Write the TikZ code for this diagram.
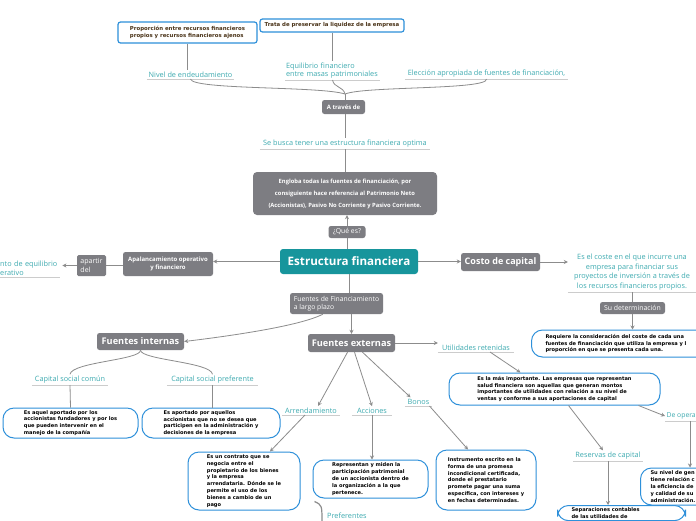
\documentclass[tikz,border=0pt]{standalone}
\usepackage{fontspec}
\setmainfont{Open Sans}
\newfontfamily\bxf{DejaVu Sans}
\usetikzlibrary{arrows.meta}
\definecolor{gbox}{HTML}{7D7D82}
\definecolor{tealbox}{HTML}{17959C}
\definecolor{tealt}{HTML}{3DAAB0}
\definecolor{bblue}{HTML}{2E90DA}
\definecolor{conn}{HTML}{8C8C8C}
\definecolor{ulc}{HTML}{CCCCCC}
\definecolor{brownt}{HTML}{4A3318}
\begin{document}
\begin{tikzpicture}[x=1pt,y=-1pt,
 gb/.style={fill=gbox,text=white,rounded corners=2.5pt,inner sep=1pt,align=center},
 lbl/.style={text=tealt,font=\fontsize{7.3}{8.5}\selectfont,inner xsep=0pt,inner ysep=1.5pt,anchor=south,align=center},
 ul/.style={draw=ulc,line width=0.8pt},
 cn/.style={draw=conn,line width=0.8pt},
 ar/.style={cn,-{Stealth[length=4pt,width=4pt]}},
 bb/.style={draw=bblue,line width=1pt,fill=white,rounded corners=11pt,align=left,font=\bxf\bfseries\fontsize{5.1}{6.8}\selectfont,inner sep=0pt},
 hb/.style={draw=bblue,line width=1.2pt,fill=white,rounded corners=2.5pt,align=left,text=brownt,font=\bxf\bfseries\fontsize{5.4}{6.5}\selectfont,inner sep=0pt},
]
\useasboundingbox (0,0) rectangle (696,520);
\clip (0,0) rectangle (696,520);
\fill[white] (0,0) rectangle (696,520);

% top
\node[hb,minimum width=139pt,minimum height=21pt] (prop) at (187.5,32.5) {Proporción entre recursos financieros\\propios y recursos financieros ajenos};
\node[hb,minimum width=144pt,minimum height=13pt] (trata) at (332,25.5) {Trata de preservar la liquidez de la empresa};
\node[lbl,minimum width=87pt] (nivel) at (190.5,79) {Nivel de endeudamiento};
\node[lbl,text width=93pt,inner xsep=1pt,align=left] (equil) at (332.5,80) {Equilibrio financiero\\entre masas patrimoniales};
\node[lbl,minimum width=163pt] (elec) at (486.5,79) {Elección apropiada de fuentes de financiación,};
\coordinate (conv) at (345,94);
\node[gb,minimum width=43pt,minimum height=14pt,font=\bfseries\fontsize{6}{7}\selectfont] (atraves) at (343.5,107) {A través de};
\node[lbl,minimum width=170pt] (sebusca) at (345,149) {Se busca tener una estructura financiera optima};
\node[gb,minimum width=184pt,minimum height=43pt,font=\bfseries\fontsize{5.8}{12}\selectfont,rounded corners=4pt] (engloba) at (345,193.5) {Engloba todas las fuentes de financiación, por\\consiguiente hace referencia al Patrimonio Neto\\(Accionistas), Pasivo No Corriente y Pasivo Corriente.};
\node[gb,minimum width=37pt,minimum height=12pt,font=\fontsize{6.8}{7.5}\selectfont] (quees) at (347,232) {¿Qué es?};
\node[fill=tealbox,text=white,rounded corners=3pt,minimum width=138pt,minimum height=25pt,font=\bfseries\fontsize{11.6}{13}\selectfont,inner sep=0pt] (estr) at (349,261.5) {Estructura financiera};

% left
\node[gb,minimum width=90pt,minimum height=24pt,font=\bfseries\fontsize{6}{8}\selectfont] (apal) at (168,264) {Apalancamiento operativo\\y financiero};
\node[gb,minimum width=29pt,minimum height=21pt,font=\fontsize{7}{8.5}\selectfont,align=left,rounded corners=1.5pt] (apartir) at (91.5,265.5) {apartir\\del};
\node[lbl,anchor=south west,align=left,text width=60pt] (punto) at (0,277) {nto de equilibrio\\erativo};

% right
\node[gb,minimum width=79pt,minimum height=18pt,font=\bfseries\fontsize{9}{10}\selectfont] (costo) at (500.5,262) {Costo de capital};
\node[lbl,minimum width=128pt,font=\fontsize{7.3}{9.6}\selectfont] (esel) at (632,292) {Es el coste en el que incurre una\\empresa para financiar sus\\proyectos de inversión a través de\\los recursos financieros propios.};
\node[gb,minimum width=65pt,minimum height=12pt,font=\fontsize{6.9}{7.5}\selectfont] (sudet) at (632.5,308) {Su determinación};
\node[bb,anchor=west,minimum height=27pt,text width=175pt,inner xsep=14pt] (requiere) at (531,343.5) {Requiere la consideración del coste de cada una\\fuentes de financiación que utiliza la empresa y l\\proporción en que se presenta cada una.};

% lower middle
\node[gb,minimum width=93pt,minimum height=21pt,font=\fontsize{6.8}{8.5}\selectfont,align=left] (fflp) at (336.5,303.5) {Fuentes de Financiamiento\\a largo plazo};
\node[gb,minimum width=87pt,minimum height=17pt,font=\bfseries\fontsize{9.2}{10}\selectfont] (fint) at (140.5,341.5) {Fuentes internas};
\node[gb,minimum width=87pt,minimum height=18pt,font=\bfseries\fontsize{9.2}{10}\selectfont] (fext) at (351.5,343) {Fuentes externas};

\node[lbl,minimum width=76pt] (capcomun) at (70,385) {Capital social común};
\node[lbl,minimum width=91pt] (cappref) at (212.5,385) {Capital social preferente};
\node[bb,minimum width=135pt,minimum height=30pt] (esaquel) at (70.5,423) {Es aquel aportado por los\\accionistas fundadores y por los\\que pueden intervenir en el\\manejo de la compañía};
\node[bb,minimum width=138pt,minimum height=30pt] (esaport) at (211,423) {Es aportado por aquellos\\accionistas que no se desea que\\participen en la administración y\\decisiones de la empresa};

\node[lbl,minimum width=76pt] (utilret) at (476,352) {Utilidades retenidas};
\node[bb,minimum width=211pt,minimum height=32pt] (eslamas) at (554.5,389) {Es la más importante. Las empresas que representan\\salud financiera son aquellas que generan montos\\importantes de utilidades con relación a su nivel de\\ventas y conforme a sus aportaciones de capital};
\node[lbl,anchor=south west,inner xsep=1.5pt,align=left,font=\fontsize{6.8}{8}\selectfont] (deopera) at (665,421) {De opera};
\node[lbl,minimum width=70pt] (reservas) at (608,461) {Reservas de capital};
\node[bb,anchor=north west,text width=100pt,inner xsep=14pt,inner ysep=2.5pt,font=\bxf\bfseries\fontsize{5.1}{6.2}\selectfont] (separ) at (557,505) {Separaciones contables\\de las utilidades de};
\node[bb,anchor=west,text width=60pt,inner xsep=10pt,minimum height=37pt] (sunivel) at (640,486.5) {Su nivel de gen\\tiene relación c\\la eficiencia de\\y calidad de su\\administración.};

\node[lbl,minimum width=58pt] (arrend) at (311,415) {Arrendamiento};
\node[lbl,minimum width=40pt] (acciones) at (372,415) {Acciones};
\node[lbl,minimum width=27pt] (bonos) at (418.5,406) {Bonos};
\node[bb,minimum width=112pt,minimum height=58pt] (contrato) at (244,481) {Es un contrato que se\\negocia entre el\\propietario de los bienes\\y la empresa\\arrendataria. Dónde se le\\permite el uso de los\\bienes a cambio de un\\pago};
\node[bb,minimum width=115pt,minimum height=38pt] (repres) at (370.5,479) {Representan y miden la\\participación patrimonial\\de un accionista dentro de\\la organización a la que\\pertenece.};
\node[bb,minimum width=100pt,minimum height=60pt] (instr) at (486,480) {Instrumento escrito en la\\forma de una promesa\\incondicional certificada,\\donde el prestatario\\promete pagar una suma\\específica, con intereses y\\en fechas determinadas.};
\node[text=tealt,font=\fontsize{7.3}{8}\selectfont,anchor=west,inner sep=0pt] (prefer) at (327,516) {Preferentes};
\coordinate (prefend) at (322,523);

% underlines
\foreach \n in {nivel,equil,elec,sebusca,punto,esel,capcomun,cappref,utilret,reservas,arrend,acciones,bonos}
  \draw[ul] (\n.south west) -- (\n.south east);
\draw[ul] (deopera.south west) -- ++(40,0);

% connectors
\draw[cn] (prop.south) -- (prop.south |- nivel.north);
\draw[cn] (equil.north |- trata.south) -- (equil.north);
\draw[cn] (nivel.south) .. controls (192,90) and (320,86) .. (conv);
\draw[cn] (equil.south) .. controls (334,88) and (343,86) .. (conv);
\draw[cn] (elec.south) .. controls (488,90) and (365,86) .. (conv);
\draw[cn] (conv) -- (conv |- atraves.north);
\draw[cn] (conv |- atraves.south) -- (conv |- sebusca.north);
\draw[cn] (sebusca.south) -- (engloba.north);
\draw[cn] (estr.north -| quees.south) -- (quees.south);
\draw[ar] (quees.north) -- (quees.north |- engloba.south);
\draw[ar] (estr.west) -- (apal.east |- estr.west);
\draw[cn] (apal.west |- apartir.east) -- (apartir.east);
\draw[ar] (apartir.west) -- ([xshift=2pt]punto.east |- apartir.west);
\draw[ar] (estr.east) -- (costo.west |- estr.east);
\draw[ar] (costo.east) -- (esel.west |- costo.east);
\draw[cn] (esel.south) -- (esel.south |- sudet.north);
\draw[ar] (sudet.south) -- (sudet.south |- requiere.north);
\draw[cn] (estr.south) -- (estr.south |- fflp.north);
\draw[ar] (fext.north |- fflp.south) -- (fext.north);
\draw[ar] ([xshift=33pt]fflp.south west) .. controls (300,326) and (230,336) .. (fint.east);
\draw[cn] (fint.south) .. controls (141,360) and (72,362) .. (capcomun.north);
\draw[cn] (fint.south) .. controls (141,360) and (211,362) .. (cappref.north);
\draw[cn] (capcomun.south) -- (esaquel.north);
\draw[cn] (cappref.south) -- (cappref.south |- esaport.north);
\draw[ar] (fext.east) -- (utilret.west |- fext.east);
\draw[ar] ([xshift=14pt]utilret.south) -- ([xshift=-34pt]eslamas.north);
\draw[ar] ([xshift=-22pt]eslamas.south east) -- (deopera.west);
\draw[ar] ([xshift=14pt]eslamas.south) -- ([xshift=-5pt]reservas.north);
\draw[ar] (reservas.south) -- (reservas.south |- separ.north);
\draw[ar] ([xshift=25pt]deopera.south west) -- ([xshift=25pt]deopera.south west |- sunivel.north);
\draw[ar] ([xshift=-4pt]fext.south) -- ([xshift=7pt]arrend.north);
\draw[ar] ([xshift=3pt]fext.south) -- (acciones.north);
\draw[ar] ([xshift=11pt]fext.south) -- ([xshift=-8pt]bonos.north);
\draw[ar] ([xshift=-6pt]arrend.south) -- ([xshift=26pt]contrato.north);
\draw[ar] (acciones.south) -- (acciones.south |- repres.north);
\draw[ar] ([xshift=11pt]bonos.south) -- ([xshift=-18pt]instr.north);
\draw[cn,line width=1.2pt] ([xshift=2pt,yshift=-3pt]repres.south west) .. controls (322,505) .. (prefend);
\end{tikzpicture}
\end{document}
